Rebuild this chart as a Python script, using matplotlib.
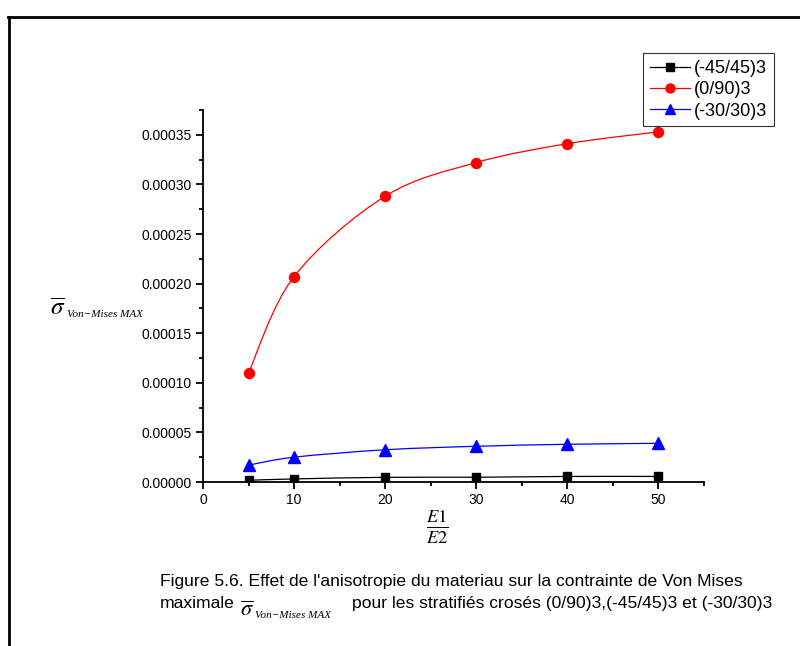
import matplotlib.pyplot as plt
from matplotlib.path import Path
from matplotlib.patches import PathPatch
from matplotlib.lines import Line2D

plt.rcParams['font.family'] = ['Liberation Sans', 'DejaVu Sans']
plt.rcParams['mathtext.fontset'] = 'stix'

# rapport E1/E2
ratio = [5, 10, 20, 30, 40, 50]

# contrainte de Von Mises max adimensionnelle
s_45 = [0.0000017, 0.0000031, 0.0000047, 0.0000048, 0.0000056, 0.0000056]
s_090 = [0.000110, 0.000207, 0.000288, 0.000322, 0.000341, 0.000353]
s_30 = [0.0000170, 0.0000250, 0.0000325, 0.0000360, 0.0000380, 0.0000390]

labels = ['(-45/45)3', '(0/90)3', '(-30/30)3']


def spline_path(x, y):
    # courbe lissee type Catmull-Rom, convertie en segments de Bezier
    verts = [(x[0], y[0])]
    codes = [Path.MOVETO]
    n = len(x)
    for i in range(n - 1):
        x0, y0 = (x[i - 1], y[i - 1]) if i > 0 else (x[i], y[i])
        x3, y3 = (x[i + 2], y[i + 2]) if i + 2 < n else (x[i + 1], y[i + 1])
        c1 = (x[i] + (x[i + 1] - x0) / 6, y[i] + (y[i + 1] - y0) / 6)
        c2 = (x[i + 1] - (x3 - x[i]) / 6, y[i + 1] - (y3 - y[i]) / 6)
        verts += [c1, c2, (x[i + 1], y[i + 1])]
        codes += [Path.CURVE4] * 3
    return Path(verts, codes)


def px(x, y):
    # coordonnees pixel -> fraction de figure
    return x / 800, 1 - y / 646


def sigma_label(x, y, size_sig, size_sub):
    # sigma barre suivi de l'indice Von-Mises MAX (y = ligne de base)
    fig.text(*px(x, y), r'$\overline{\sigma}$', fontsize=size_sig,
             va='baseline', ha='left')
    fig.text(*px(x + size_sig * 0.95, y + 2), 'Von\u2212Mises MAX', fontsize=size_sub,
             va='baseline', ha='left', family='Liberation Serif', style='italic')


fig = plt.figure(figsize=(8, 6.46), dpi=100)

# cadre autour de la figure
fig.add_artist(Line2D([8 / 800, 1], [1 - 17 / 646, 1 - 17 / 646],
                      color='black', lw=2, transform=fig.transFigure))
fig.add_artist(Line2D([9 / 800, 9 / 800], [0, 1 - 17 / 646],
                      color='black', lw=2, transform=fig.transFigure))

ax = fig.add_axes([203 / 800, 164 / 646, 500.7 / 800, 372 / 646])

series = [(s_45, 'black', 's', 6), (s_090, 'red', 'o', 7.2), (s_30, 'blue', '^', 8)]
handles = []
for vals, col, mk, ms in series:
    ax.add_patch(PathPatch(spline_path(ratio, vals), fill=False, edgecolor=col, lw=0.9))
    ax.plot(ratio, vals, ls='none', marker=mk, color=col, ms=ms, zorder=3)
    handles.append(Line2D([], [], color=col, marker=mk, ms=ms * 0.9, lw=0.9))

ax.set_xlim(0, 55)
ax.set_ylim(0, 0.000375)
ax.set_xticks([0, 10, 20, 30, 40, 50])
ax.set_xticks([5, 15, 25, 35, 45, 55], minor=True)
ax.set_yticks([i * 0.00005 for i in range(8)])
ax.set_yticks([0.000025 + i * 0.00005 for i in range(8)], minor=True)
ax.set_yticklabels([f'{i * 0.00005:.5f}' for i in range(8)])

for s in ['top', 'right']:
    ax.spines[s].set_visible(False)
for s in ['left', 'bottom']:
    ax.spines[s].set_linewidth(1.3)
ax.tick_params(which='major', direction='out', length=5, width=1.3, labelsize=10, pad=3)
ax.tick_params(which='minor', direction='out', length=3, width=1.3)

# libelle de l'axe y
sigma_label(50, 315, 18, 8)

fig.text(*px(437, 527), r'$\frac{E1}{E2}$', fontsize=19, ha='center', va='center')

leg = fig.legend(handles, labels, loc='upper left', bbox_to_anchor=px(643, 53),
                 frameon=True, fancybox=False, edgecolor='black', fontsize=13,
                 handlelength=2.2, handletextpad=0.25, borderpad=0.38,
                 labelspacing=0.24, borderaxespad=0)
leg.get_frame().set_linewidth(0.8)

fig.text(*px(160, 586),
         "Figure 5.6. Effet de l'anisotropie du materiau sur la contrainte de Von Mises",
         fontsize=12.6, va='baseline')
fig.text(*px(160, 608), "maximale", fontsize=12.6, va='baseline')
sigma_label(240, 616, 16, 8)
fig.text(*px(352, 608),
         "pour les stratifiés crosés (0/90)3,(-45/45)3 et (-30/30)3",
         fontsize=12.6, va='baseline')

fig.savefig('out.png', dpi=100)
